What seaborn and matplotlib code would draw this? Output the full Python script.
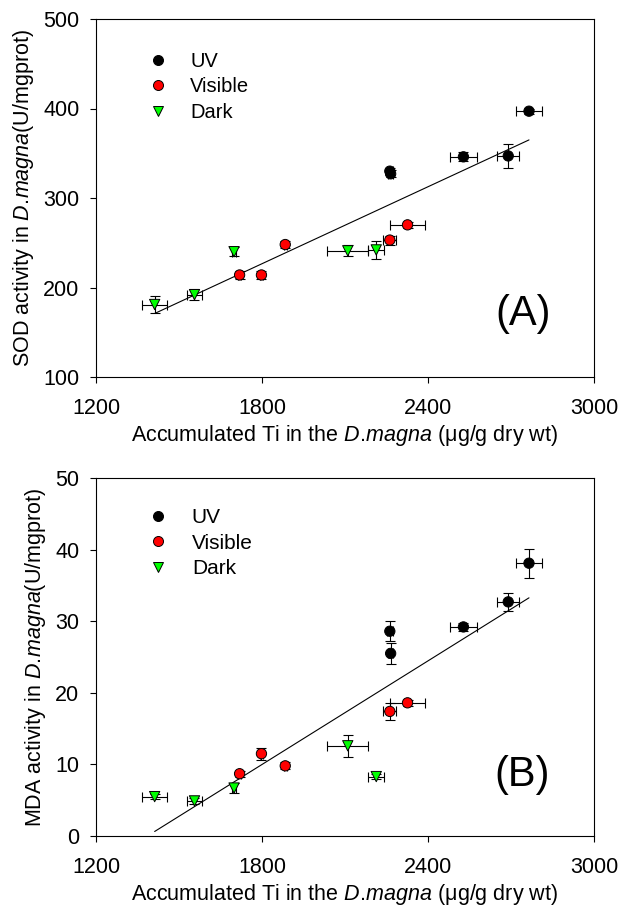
import numpy as np
import pandas as pd
import matplotlib
matplotlib.use("Agg")
import matplotlib.pyplot as plt
import seaborn as sns
from matplotlib.lines import Line2D

# ---------------- data ----------------
groups = ["UV", "Visible", "Dark"]

ti_uv = [2765, 2528, 2690, 2262, 2265]
ti_uv_err = [48, 48, 40, 10, 10]
ti_vis = [1719, 1798, 1884, 2262, 2326]
ti_vis_err = [5, 5, 5, 24, 64]
ti_dark = [1412, 1556, 1699, 2110, 2213]
ti_dark_err = [45, 27, 8, 74, 29]

sod_uv = [397, 346, 347, 330, 327]
sod_uv_err = [3, 5, 13, 4, 4]
sod_vis = [214, 214, 248, 253, 270]
sod_vis_err = [4, 4, 4, 5, 3]
sod_dark = [181, 192, 240, 241, 242]
sod_dark_err = [9, 6, 5, 6, 10]

mda_uv = [38.1, 29.2, 32.7, 28.6, 25.5]
mda_uv_err = [2.0, 0.5, 1.3, 1.4, 1.5]
mda_vis = [8.7, 11.5, 9.8, 17.4, 18.6]
mda_vis_err = [0.4, 0.85, 0.5, 1.2, 0.4]
mda_dark = [5.5, 4.9, 6.7, 12.6, 8.3]
mda_dark_err = [0.4, 0.4, 0.65, 1.5, 0.4]

x_ticks = [1200, 1800, 2400, 3000]
sod_ticks = [100, 200, 300, 400, 500]
mda_ticks = [0, 10, 20, 30, 40, 50]

xlabel = "Accumulated Ti in the $\\mathit{D.\\!magna}$ (\u03bcg/g dry wt)"
ylabel_sod = "SOD activity in $\\mathit{D.\\!magna}$(U/mgprot)"
ylabel_mda = "MDA activity in $\\mathit{D.\\!magna}$(U/mgprot)"
panel_labels = ["(A)", "(B)"]

# ---------------- style ----------------
sns.set_theme(style="ticks")
plt.rcParams["font.family"] = ["Liberation Sans", "DejaVu Sans"]
plt.rcParams["mathtext.fontset"] = "custom"
plt.rcParams["mathtext.rm"] = "Liberation Sans"
plt.rcParams["mathtext.it"] = "Liberation Sans:italic"
plt.rcParams["axes.linewidth"] = 0.8
for k in ["text.color", "axes.labelcolor", "xtick.color", "ytick.color", "axes.edgecolor"]:
    plt.rcParams[k] = "black"

palette = {"UV": "black", "Visible": "#ff0000", "Dark": "#00ff00"}
markers = {"UV": "o", "Visible": "o", "Dark": "v"}


def make_df(yvals, yerrs):
    rows = []
    tis = {"UV": (ti_uv, ti_uv_err), "Visible": (ti_vis, ti_vis_err), "Dark": (ti_dark, ti_dark_err)}
    for g in groups:
        tx, txe = tis[g]
        for a, ae, b, be in zip(tx, txe, yvals[g], yerrs[g]):
            rows.append(dict(group=g, ti=a, ti_err=ae, y=b, y_err=be))
    return pd.DataFrame(rows)


df_sod = make_df({"UV": sod_uv, "Visible": sod_vis, "Dark": sod_dark},
                 {"UV": sod_uv_err, "Visible": sod_vis_err, "Dark": sod_dark_err})
df_mda = make_df({"UV": mda_uv, "Visible": mda_vis, "Dark": mda_dark},
                 {"UV": mda_uv_err, "Visible": mda_vis_err, "Dark": mda_dark_err})

W, H = 621, 916
fig = plt.figure(figsize=(W / 100, H / 100), dpi=100)
ax1 = fig.add_axes([96 / W, 1 - 377 / H, 498 / W, 358 / H])
ax2 = fig.add_axes([96 / W, 1 - 836 / H, 498 / W, 358 / H])


def draw(ax, df, yticks, ylabel, letter, leg_y, letter_xy, legsize):
    ax.errorbar(df["ti"], df["y"], xerr=df["ti_err"], yerr=df["y_err"], fmt="none",
                ecolor="black", elinewidth=0.8, capsize=3.6, capthick=0.8, zorder=2)
    sns.regplot(data=df, x="ti", y="y", scatter=False, ci=None, truncate=True, ax=ax,
                line_kws=dict(color="black", lw=0.8, zorder=1))
    sns.scatterplot(data=df, x="ti", y="y", hue="group", style="group", hue_order=groups,
                    style_order=groups, palette=palette, markers=markers, s=55,
                    edgecolor="black", linewidth=0.7, ax=ax, legend=False, zorder=3)
    ax.set_xlim(x_ticks[0], x_ticks[-1])
    ax.set_ylim(yticks[0], yticks[-1])
    ax.set_xticks(x_ticks)
    ax.set_yticks(yticks)
    ax.tick_params(axis="both", direction="out", length=4, width=0.8, labelsize=15.5,
                   color="black", labelcolor="black")
    ax.tick_params(axis="x", pad=11)
    ax.tick_params(axis="y", pad=8)
    for sp in ax.spines.values():
        sp.set_visible(True)
        sp.set_color("black")
        sp.set_linewidth(0.8)
    ax.set_xlabel(xlabel, fontsize=15.5, labelpad=3)
    ax.set_ylabel(ylabel, fontsize=15.5, labelpad=5)
    ax.text(letter_xy[0], letter_xy[1], letter, transform=ax.transAxes, ha="center",
            va="center", fontsize=30, color="black")
    handles = [Line2D([], [], ls="none", marker=markers[g], markersize=7.2,
                      markerfacecolor=palette[g], markeredgecolor="black",
                      markeredgewidth=0.7) for g in groups]
    ax.legend(handles, groups, loc="upper left", bbox_to_anchor=(0.092, leg_y),
              frameon=False, fontsize=legsize, handlelength=1.6, handletextpad=0.8,
              labelspacing=0.32, borderaxespad=0, borderpad=0)


draw(ax1, df_sod, sod_ticks, ylabel_sod, panel_labels[0], 0.908, (0.857, 0.176), 14.5)
draw(ax2, df_mda, mda_ticks, ylabel_mda, panel_labels[1], 0.916, (0.855, 0.170), 15)

fig.savefig("out.png", dpi=100)
